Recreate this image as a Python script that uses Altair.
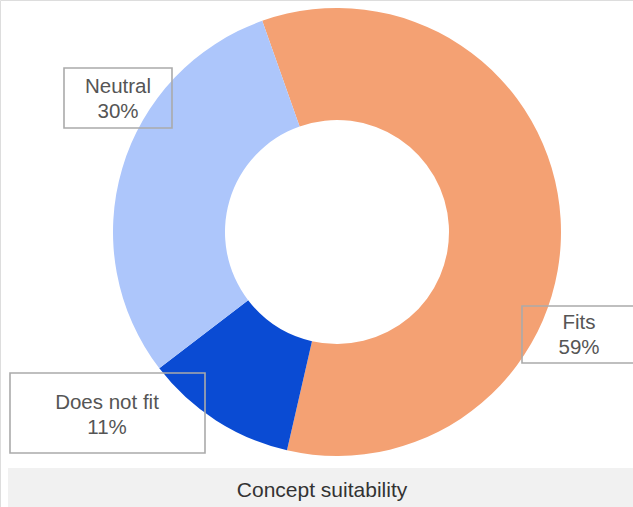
import math
import altair as alt
import pandas as pd

# ---- data ----
categories = ["Fits", "Does not fit", "Neutral"]
shares = [59, 11, 30]
colors = ["#F4A173", "#0A4BD3", "#ADC6FB"]
chart_title = "Concept suitability"

# ---- layout (pixels) ----
W, H = 633, 507
CX, CY = 337, 232
R_OUT, R_IN = 224, 112
START_DEG = -19.5  # first slice starts left of 12 o'clock
start = math.radians(360 + START_DEG)

# box (x1, y1, x2, y2) and first-line text anchor (x, y)
label_boxes = {
    "Fits": (522, 306, 642, 363),
    "Does not fit": (10, 373, 205, 453),
    "Neutral": (64, 68, 172, 128),
}
label_anchor = {
    "Fits": (579, 323),
    "Does not fit": (107, 403),
    "Neutral": (118, 87),
}

df = pd.DataFrame({"category": categories, "share": shares, "idx": list(range(len(categories)))})
df["label"] = [f"{c}\n{s}%" for c, s in zip(categories, shares)]

boxes = pd.DataFrame({
    "category": categories,
    "x1": [label_boxes[c][0] for c in categories],
    "y1": [label_boxes[c][1] for c in categories],
    "x2": [label_boxes[c][2] for c in categories],
    "y2": [label_boxes[c][3] for c in categories],
    "xm": [label_anchor[c][0] for c in categories],
    "ym": [label_anchor[c][1] for c in categories],
    "label": df["label"],
})

bar = alt.Chart(pd.DataFrame({"t": [chart_title]})).mark_rect(color="#F1F1F1").encode(
    x=alt.value(8), x2=alt.value(W + 5), y=alt.value(468), y2=alt.value(H + 5)
)
title = alt.Chart(pd.DataFrame({"t": [chart_title]})).mark_text(
    font="Liberation Sans", fontSize=21, color="#333333", baseline="middle", align="center"
).encode(text="t:N", x=alt.value(322), y=alt.value(491))

arcs = alt.Chart(df).mark_arc(innerRadius=R_IN, outerRadius=R_OUT).encode(
    theta=alt.Theta("share:Q", stack=True, scale=alt.Scale(range=[start, start + 2 * math.pi])),
    order=alt.Order("idx:Q"),
    color=alt.Color("category:N", scale=alt.Scale(domain=categories, range=colors), legend=None),
    x=alt.value(CX), y=alt.value(CY),
)

box_layer = alt.Chart(boxes).mark_rect(fillOpacity=0, stroke="#AAAAAA", strokeWidth=1.6).encode(
    x=alt.X("x1:Q", scale=None), x2="x2:Q", y=alt.Y("y1:Q", scale=None), y2="y2:Q"
)
label_layer = alt.Chart(boxes).mark_text(
    font="Liberation Sans", fontSize=20.5, color="#555555", lineBreak="\n", lineHeight=25,
    align="center", baseline="middle"
).encode(x=alt.X("xm:Q", scale=None), y=alt.Y("ym:Q", scale=None), text="label:N")

chart = alt.layer(bar, title, arcs, box_layer, label_layer).properties(
    width=W, height=H, autosize=alt.AutoSizeParams(type="none"), padding=0
).configure_view(stroke=None).configure(background="white")

chart.save("out.html", embed_options={"renderer": "svg", "actions": False})
